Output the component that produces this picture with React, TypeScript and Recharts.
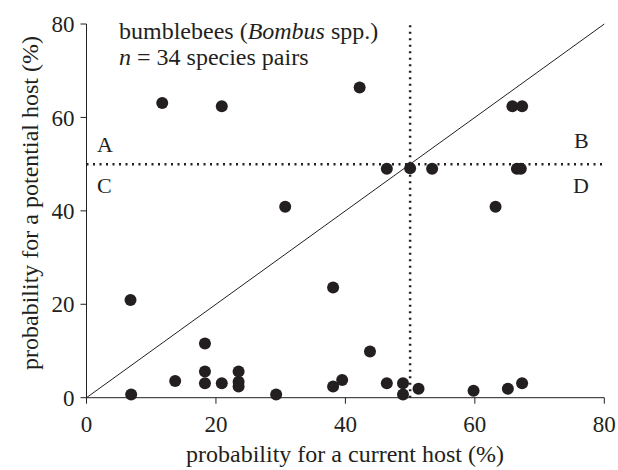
import {
  ReferenceLine,
  Scatter,
  ScatterChart,
  XAxis,
  YAxis,
} from "recharts";

// probability for a current host (%)
const currentHost = [
  11.7, 20.9, 42.2, 65.8, 67.3,
  46.4, 50.0, 53.4, 66.5, 67.1,
  30.7, 63.2, 38.1, 6.8,
  6.9, 13.7, 18.3, 18.3, 18.3, 20.9, 23.5, 23.5, 23.5, 29.3,
  38.1, 39.5, 43.8, 46.4, 48.9, 48.9, 51.3, 59.8, 65.1, 67.3,
];

// probability for a potential host (%)
const potentialHost = [
  63.1, 62.4, 66.4, 62.4, 62.4,
  49.0, 49.1, 49.0, 49.0, 49.0,
  40.9, 40.9, 23.6, 20.9,
  0.7, 3.6, 11.6, 5.6, 3.1, 3.1, 5.6, 3.4, 2.4, 0.7,
  2.4, 3.8, 9.9, 3.1, 3.1, 0.7, 1.9, 1.5, 1.9, 3.1,
];

const axisTicks = [0, 20, 40, 60, 80];

const INK = "#231f20";
const FONT = "Liberation Serif, Times New Roman, serif";

const points = currentHost.map((x, i) => ({ x, y: potentialHost[i] }));

export default function App() {
  return (
    <div style={{ position: "absolute", left: 0, top: 0, width: 618, height: 470 }}>
      <ScatterChart width={618} height={470} margin={{ top: 24, right: 13.7, bottom: 0, left: 0 }}>
        <XAxis
          type="number"
          dataKey="x"
          domain={[0, 80]}
          ticks={axisTicks}
          tickSize={6}
          tickMargin={12}
          height={72.3}
          stroke={INK}
          tick={{ fill: INK, fontSize: 23, fontFamily: FONT }}
        />
        <YAxis
          type="number"
          dataKey="y"
          domain={[0, 80]}
          ticks={axisTicks}
          tickSize={6}
          tickMargin={6}
          width={86.5}
          stroke={INK}
          tick={{ fill: INK, fontSize: 23, fontFamily: FONT }}
        />
        {/* 1:1 line */}
        <ReferenceLine
          segment={[{ x: 0, y: 0 }, { x: 80, y: 80 }]}
          stroke={INK}
          strokeWidth={1}
        />
        {/* 50% thresholds splitting the quadrants */}
        <ReferenceLine y={50} stroke={INK} strokeWidth={2.5} strokeDasharray="2 4.5" />
        <ReferenceLine x={50} stroke={INK} strokeWidth={2.5} strokeDasharray="2 4.5" />
        <Scatter data={points} fill={INK} isAnimationActive={false} shape={<Dot />} />

        <text x={119} y={39} fontSize={24} fontFamily={FONT} fill={INK}>
          bumblebees (<tspan fontStyle="italic">Bombus</tspan> spp.)
        </text>
        <text x={119} y={65} fontSize={24} fontFamily={FONT} fill={INK}>
          <tspan fontStyle="italic">n</tspan> = 34 species pairs
        </text>
        <text x={97} y={152} fontSize={22} fontFamily={FONT} fill={INK}>A</text>
        <text x={574} y={148} fontSize={22} fontFamily={FONT} fill={INK}>B</text>
        <text x={97} y={193} fontSize={22} fontFamily={FONT} fill={INK}>C</text>
        <text x={573} y={193} fontSize={22} fontFamily={FONT} fill={INK}>D</text>

        <text x={345} y={462} fontSize={24} textAnchor="middle" fontFamily={FONT} fill={INK}>
          probability for a current host (%)
        </text>
        <text
          x={38}
          y={203}
          fontSize={24}
          textAnchor="middle"
          transform="rotate(-90, 38, 203)"
          fontFamily={FONT}
          fill={INK}
        >
          probability for a potential host (%)
        </text>
      </ScatterChart>
    </div>
  );
}

function Dot(props: any) {
  const { cx, cy } = props;
  return <circle cx={cx} cy={cy} r={6} fill={INK} />;
}
